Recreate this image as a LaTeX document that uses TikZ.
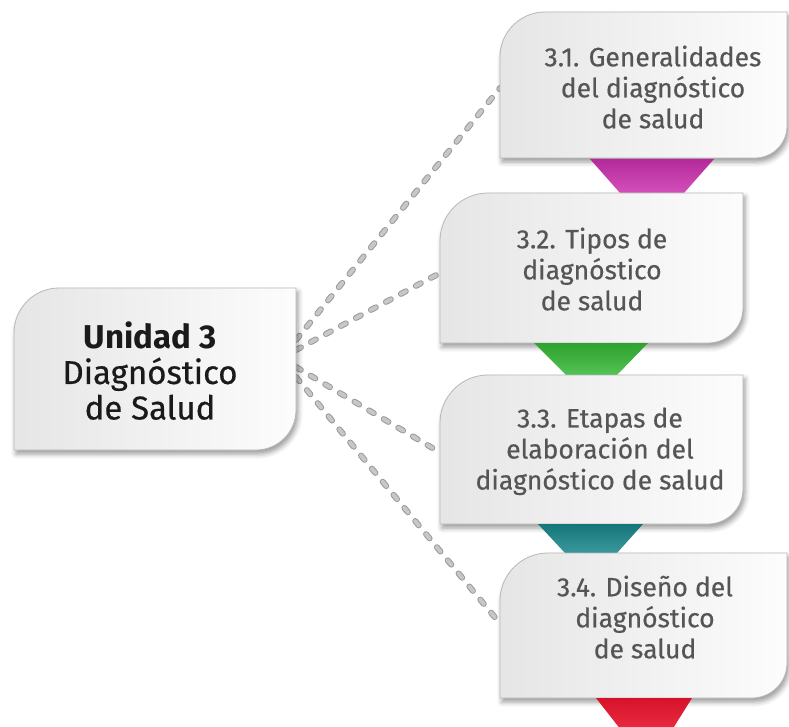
\documentclass[tikz,border=0pt]{standalone}
\usepackage{fontspec}
\setmainfont{Fira Sans}
\newfontfamily\regfont{Fira Sans}[FakeBold=0.45]
\usetikzlibrary{shadows.blur,calc}
\definecolor{txtgray}{HTML}{555555}
\definecolor{txtdark}{HTML}{1A1A1A}
\definecolor{magF}{HTML}{CC30B0}
\definecolor{grnF}{HTML}{35B835}
\definecolor{tealF}{HTML}{17868B}
\definecolor{redF}{HTML}{E8142D}
\tikzset{
  geo/.style={rectangle, inner sep=0pt, outer sep=0pt, draw=none},
  boxsty/.style={left color=black!10, right color=black!1, draw=black!28, line width=0.8pt,
    blur shadow={shadow xshift=2pt, shadow yshift=-4pt, shadow blur radius=5pt, shadow opacity=40}},
  connout/.style={line width=6pt, draw=black!40, line cap=round, dash pattern=on 5.5pt off 11.5pt},
  connin/.style={line width=4pt, draw=black!22, line cap=round, dash pattern=on 5.5pt off 11.5pt},
  boxtext/.style={align=center, inner sep=0pt, anchor=north, text=txtgray,
    font=\regfont\fontsize{26.5}{31}\selectfont},
  maintext/.style={align=center, inner sep=0pt, anchor=north, text=txtdark,
    font=\fontsize{33}{35.5}\selectfont},
  funnel/.style={draw=none}
}
\newcommand\boxshape[6]{%
\pgfmathsetmacro\bxYa{#2+#5}%
\pgfmathsetmacro\bxYb{#2+0.448*#5}%
\pgfmathsetmacro\bxXa{#1+0.448*#5}%
\pgfmathsetmacro\bxXb{#1+#5}%
\pgfmathsetmacro\bxYc{#4-#6}%
\pgfmathsetmacro\bxYd{#4-0.448*#6}%
\pgfmathsetmacro\bxXc{#3-0.448*#6}%
\pgfmathsetmacro\bxXd{#3-#6}%
\path[boxsty] (#1,#4) -- (#1,\bxYa) .. controls (#1,\bxYb) and (\bxXa,#2) .. (\bxXb,#2)
  -- (#3,#2) -- (#3,\bxYc) .. controls (#3,\bxYd) and (\bxXc,#4) .. (\bxXd,#4) -- cycle;}
\begin{document}
\begin{tikzpicture}[x=1pt,y=-1pt]
\useasboundingbox (0,0) rectangle (789,727);
% geometry nodes
\node[geo, minimum width=282pt, minimum height=162pt] (m) at (155,369) {};
\node[geo, minimum width=287pt, minimum height=146pt] (b1) at (643.5,85) {};
\node[geo, minimum width=303pt, minimum height=150pt] (b2) at (591.5,268) {};
\node[geo, minimum width=303pt, minimum height=149pt] (b3) at (591.5,449.5) {};
\node[geo, minimum width=287pt, minimum height=145pt] (b4) at (643.5,625.5) {};
% connectors
\foreach \s/\e/\t in {29/-3/b1, 19/-5/b2, 2/-3/b3, -8/2/b4}{
  \draw[connout] ([yshift=\s pt]m.east) -- ([yshift=\e pt]\t.west);
  \draw[connin] ([yshift=\s pt]m.east) -- ([yshift=\e pt]\t.west);
}
% boxes and funnels
\boxshape{14}{288}{296}{450}{45}{40}
\boxshape{500}{12}{787}{158}{45}{32}
\path[funnel, top color=magF!88!black, bottom color=magF!85!white] (590,159) -- (714,159) -- (684,193) -- (620,193) -- cycle;
\boxshape{440}{193}{743}{343}{48}{35}
\path[funnel, top color=grnF!88!black, bottom color=grnF!85!white] (534,343) -- (648,343) -- (617,375) -- (566,375) -- cycle;
\boxshape{440}{375}{743}{524}{48}{35}
\path[funnel, top color=tealF!88!black, bottom color=tealF!85!white] (538,524) -- (643,524) -- (617,553) -- (565,553) -- cycle;
\boxshape{500}{553}{787}{698}{48}{35}
\path[funnel, top color=redF!92!black, bottom color=redF!90!white] (596,698) -- (692,698) -- (672,730) -- (621,730) -- cycle;
% texts
\node[maintext] (mt) at (150,321.5) {\textbf{Unidad 3}\\{\regfont Diagnóstico}\\{\regfont de Salud}};
\node[boxtext] (t1) at (653,45.4) {3.1. Generalidades\\del diagnóstico\\de salud};
\node[boxtext] (t2) at (592,227.4) {3.2. Tipos de\\diagnóstico\\de salud};
\node[boxtext] (t3) at (600,407.4) {3.3. Etapas de\\elaboración del\\diagnóstico de salud};
\node[boxtext] (t4) at (645,575.4) {3.4. Diseño del\\diagnóstico\\de salud};
\end{tikzpicture}
\end{document}
